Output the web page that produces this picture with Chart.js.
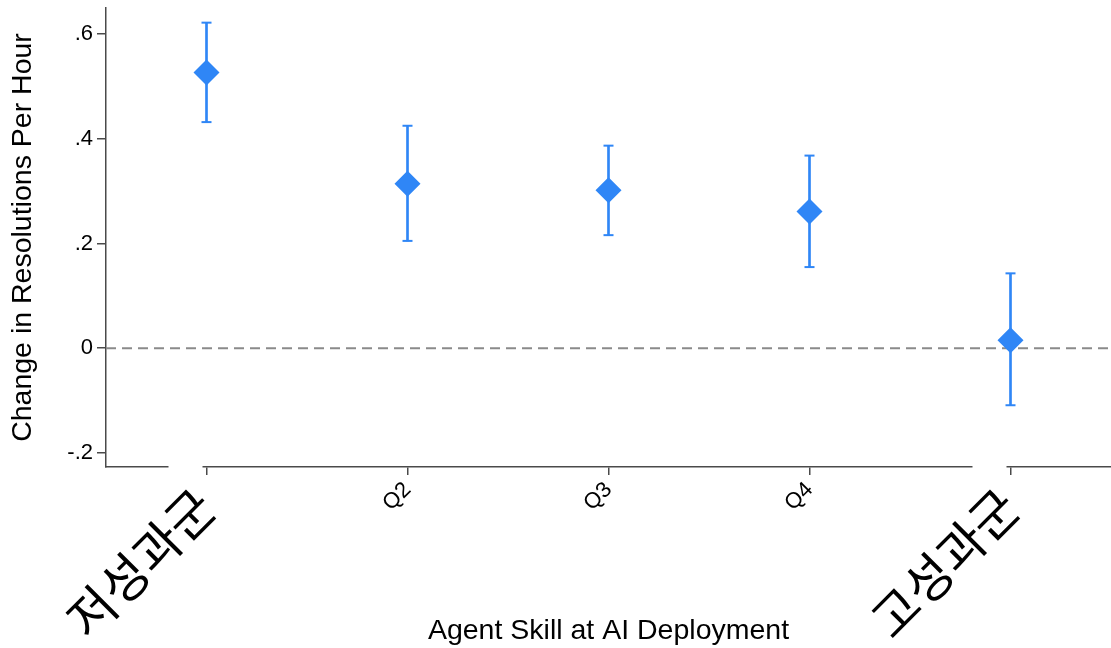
<!DOCTYPE html>
<html>
<head>
<meta charset="utf-8">
<script src="https://cdn.jsdelivr.net/npm/chart.js@4/dist/chart.umd.min.js"></script>
<style>
  html, body { margin: 0; padding: 0; background: #fff; }
  #wrap { width: 1111px; height: 648px; }
</style>
</head>
<body>
<div id="wrap"><canvas id="c"></canvas></div>
<script>
// values
var categories = ['저성과군', 'Q2', 'Q3', 'Q4', '고성과군'];
var estimate = [0.527, 0.314, 0.302, 0.261, 0.015];
var ciLow    = [0.432, 0.205, 0.216, 0.155, -0.109];
var ciHigh   = [0.622, 0.425, 0.387, 0.368, 0.143];
var yTickValues = [-0.2, 0, 0.2, 0.4, 0.6];
var yTickLabels = ['-.2', '0', '.2', '.4', '.6'];

var blue = '#2f86f6';
var axisColor = '#4a4a4a';
var latin = '"Liberation Sans", Arial, sans-serif';
var korean = '"Noto Sans CJK KR", sans-serif';

// first and last categories get the big korean labels
function isBig(i) { return i === 0 || i === categories.length - 1; }

// dashed reference line at zero
var zeroLine = {
  id: 'zeroLine',
  beforeDatasetsDraw: function (chart) {
    var ctx = chart.ctx, area = chart.chartArea;
    var y = chart.scales.y.getPixelForValue(0);
    ctx.save();
    ctx.strokeStyle = '#8a8a8a';
    ctx.lineWidth = 2;
    ctx.setLineDash([10, 6]);
    ctx.beginPath();
    ctx.moveTo(area.left, y);
    ctx.lineTo(area.right, y);
    ctx.stroke();
    ctx.restore();
  }
};

// big rotated labels, pasted over a white patch like in the original
var bigLabels = {
  id: 'bigLabels',
  afterDraw: function (chart) {
    var ctx = chart.ctx, xs = chart.scales.x;
    var base = xs.top;
    ctx.save();
    categories.forEach(function (label, i) {
      if (!isBig(i)) return;
      var x = xs.getPixelForValue(i);
      ctx.fillStyle = '#fff';
      ctx.fillRect(x - 38, base - 3, 34, 40);
      ctx.save();
      ctx.translate(x - 1, base + 31);
      ctx.rotate(-Math.PI / 4);
      ctx.fillStyle = '#000';
      ctx.font = '400 50px ' + korean;
      ctx.textAlign = 'right';
      ctx.textBaseline = 'middle';
      ctx.fillText(label, 0, 0);
      ctx.restore();
    });
    ctx.restore();
  }
};

var whiskers = categories.map(function (c, i) { return [ciLow[i], ciHigh[i]]; });

new Chart(document.getElementById('c'), {
  data: {
    labels: categories,
    datasets: [
      {
        type: 'line',
        label: 'estimate',
        data: estimate,
        showLine: false,
        pointStyle: 'rectRot',
        pointRadius: 13,
        pointHoverRadius: 13,
        pointBackgroundColor: blue,
        pointBorderColor: blue,
        pointBorderWidth: 0
      },
      {
        type: 'line',
        label: 'upper cap',
        data: ciHigh,
        showLine: false,
        pointStyle: 'line',
        pointRadius: 5,
        pointBorderColor: blue,
        pointBorderWidth: 2
      },
      {
        type: 'line',
        label: 'lower cap',
        data: ciLow,
        showLine: false,
        pointStyle: 'line',
        pointRadius: 5,
        pointBorderColor: blue,
        pointBorderWidth: 2
      },
      {
        type: 'bar',
        label: 'ci',
        data: whiskers,
        backgroundColor: blue,
        barThickness: 2,
        borderSkipped: false
      }
    ]
  },
  options: {
    responsive: true,
    maintainAspectRatio: false,
    animation: false,
    events: [],
    layout: { autoPadding: false, padding: { top: 8, left: 0, right: 0, bottom: 0 } },
    plugins: {
      legend: { display: false },
      tooltip: { enabled: false }
    },
    scales: {
      x: {
        type: 'category',
        offset: true,
        border: { display: true, color: axisColor, width: 1.5 },
        grid: { display: true, offset: false, drawOnChartArea: false, drawTicks: true, tickLength: 8, color: axisColor, lineWidth: 1.5 },
        ticks: {
          autoSkip: false,
          minRotation: 45,
          maxRotation: 45,
          padding: 2,
          color: '#000',
          font: { family: latin, size: 22 },
          callback: function (value, index) {
            return isBig(index) ? '' : categories[index];
          }
        },
        title: {
          display: true,
          text: 'Agent Skill at AI Deployment',
          color: '#000',
          font: { family: latin, size: 28.5 },
          padding: 0
        },
        afterFit: function (scale) {
          scale.height = 181;
          scale.paddingLeft = 0;
          scale.paddingRight = 0;
        }
      },
      y: {
        type: 'linear',
        min: -0.227,
        max: 0.65,
        border: { display: true, color: axisColor, width: 1.5 },
        grid: { display: true, drawOnChartArea: false, drawTicks: true, tickLength: 9, color: axisColor, lineWidth: 1.5 },
        afterBuildTicks: function (scale) {
          scale.ticks = yTickValues.map(function (v) { return { value: v }; });
        },
        ticks: {
          padding: 4,
          color: '#000',
          font: { family: latin, size: 22 },
          callback: function (value) {
            var i = yTickValues.indexOf(value);
            return i >= 0 ? yTickLabels[i] : '';
          }
        },
        title: {
          display: true,
          text: 'Change in Resolutions Per Hour',
          color: '#000',
          font: { family: latin, size: 28.5 },
          padding: { top: 6, bottom: 0 }
        },
        afterFit: function (scale) {
          scale.width = 106;
          scale.paddingTop = 0;
          scale.paddingBottom = 0;
        }
      }
    }
  },
  plugins: [zeroLine, bigLabels]
});
</script>
</body>
</html>
